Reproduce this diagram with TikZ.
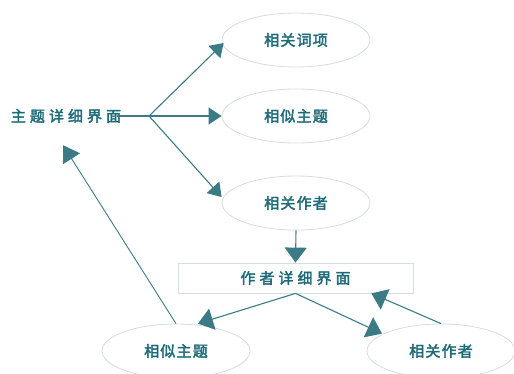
\documentclass[tikz,border=0pt]{standalone}
\usepackage{fontspec}
\usetikzlibrary{shapes.geometric,arrows.meta}
\newfontfamily\cjkA[LetterSpace=8,FakeBold=2.5]{Noto Sans CJK SC}
\newfontfamily\cjkB[LetterSpace=27,FakeBold=2.5]{Noto Sans CJK SC}
\definecolor{txtc}{HTML}{1D6A78}
\definecolor{arrc}{HTML}{3B7B86}
\definecolor{bordc}{HTML}{D3DDE2}
\tikzset{
  oval/.style={ellipse, draw=bordc, line width=0.8pt, minimum width=148pt, minimum height=54pt, inner sep=0pt, text=txtc, font=\cjkA\fontsize{15}{17}\selectfont},
  boxn/.style={rectangle, draw=bordc, line width=0.8pt, minimum width=235pt, minimum height=30pt, inner sep=0pt, text=txtc, font=\cjkB\fontsize{15}{17}\selectfont},
  titl/.style={inner sep=0pt, text=txtc, font=\cjkB\fontsize{15}{17}\selectfont},
  conn/.style={draw=arrc, line width=1.1pt},
  arr/.style={conn, -{Triangle[length=13pt,width=17pt]}},
  bigarr/.style={conn, -{Triangle[length=15pt,width=22pt]}}
}
\begin{document}
\begin{tikzpicture}[x=1pt,y=-1pt]
\path[use as bounding box] (0,0) rectangle (514,373);
\clip (0,0) rectangle (514,373);
\node[titl] (title) at (66,116) {主题详细界面};
\node[oval] (e1) at (296,40) {相关词项};
\node[oval] (e2) at (296,116) {相似主题};
\node[oval] (e3) at (296,203) {相关作者};
\node[boxn] (box) at (295.5,278) {作者详细界面};
\node[oval] (le) at (176,351) {相似主题};
\node[oval] (re) at (441,351) {相关作者};
\coordinate (br) at (149,116);
\draw[conn] ([xshift=-4pt]title.east) -- (br);
\draw[arr] (br) -- ([shift={(2pt,-3pt)}]e1.west);
\draw[arr] (br) -- (e2.west);
\draw[arr] (br) -- ([yshift=6pt]e3.west);
\draw[bigarr] (e3.south) -- (box.north);
\draw[bigarr] (box.south) -- ([xshift=22pt]le.north);
\draw[bigarr] (box.south) -- ([shift={(-59pt,-10pt)}]re.north);
\draw[bigarr] (re.north) -- ([xshift=-42pt]box.south east);
\draw[conn, line width=0.9pt, -{Triangle[length=16pt,width=20pt]}] (le.north) -- ([shift={(-3pt,-22pt)}]title.south);
\end{tikzpicture}
\end{document}
